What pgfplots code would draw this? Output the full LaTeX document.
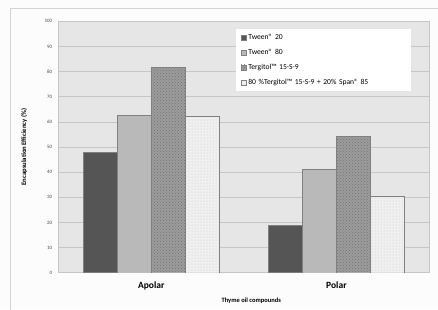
\documentclass[border=0pt]{standalone}
\usepackage{pgfplots}
\pgfplotsset{compat=1.18}
\usepackage{fontspec}
\setmainfont{Carlito}
\usetikzlibrary{patterns}
\definecolor{plotbg}{HTML}{E6E6E6}
\definecolor{gridc}{HTML}{C6C6C6}
\definecolor{frame}{HTML}{D4D4D4}
\definecolor{darkbar}{HTML}{555555}
\definecolor{midbar}{HTML}{B9B9B9}
\definecolor{granite}{HTML}{9C9C9C}
\definecolor{lightbar}{HTML}{F0F0F0}
\begin{document}
\begin{tikzpicture}[x=1pt,y=1pt]
\useasboundingbox (0,0) rectangle (438,309);
\fill[white!98!gray] (0,0) rectangle (438,309);
\draw[frame, line width=0.8pt] (10.5,-2) -- (10.5,300.5) -- (440,300.5);
\begin{axis}[
  at={(58.7pt,36.3pt)}, anchor=south west,
  scale only axis, width=370.3pt, height=251.4pt,
  ybar=0pt, bar width=34pt,
  xmin=-0.5, xmax=1.5, ymin=0, ymax=100,
  xtick={0,1}, xticklabels={Apolar,Polar},
  ytick={0,10,...,100},
  major tick length=0pt,
  axis background/.style={fill=plotbg},
  axis line style={gridc, line width=0.6pt},
  ymajorgrids, grid style={gridc, line width=0.6pt},
  xticklabel style={font=\fontsize{9.5}{11}\selectfont\bfseries, yshift=-6pt},
  yticklabel style={font=\fontsize{5}{6}\selectfont, text=black!70, xshift=-3pt},
  /pgf/number format/assume math mode=true,
  xlabel={Thyme oil compounds},
  xlabel style={font=\fontsize{6.5}{8}\selectfont\bfseries, at={(axis description cs:0.52,0)}, anchor=north, yshift=-22pt},
  ylabel={Encapsulation Efficiency (\%)},
  ylabel style={font=\fontsize{6.7}{8}\selectfont\bfseries, at={(axis description cs:0,0.5)}, anchor=south, yshift=28pt},
  legend style={at={(axis description cs:0.479,0.969)}, anchor=north west,
    draw=none, fill=white, font=\fontsize{7.6}{9}\selectfont,
    inner xsep=5pt, inner ysep=3pt, row sep=4.2pt, cells={anchor=west},
    nodes={inner xsep=1.5pt}, text width=156pt},
  legend image code/.code={\draw[#1, draw=gray] (0pt,-2.6pt) rectangle (5.2pt,2.6pt);},
]
\addplot[fill=darkbar, draw=gray] coordinates {(0,47.9) (1,18.8)};
\addplot[fill=midbar, draw=gray] coordinates {(0,62.6) (1,41.1)};
\addplot[fill=granite, draw=gray, postaction={pattern=crosshatch dots, pattern color=black!55}] coordinates {(0,81.7) (1,54.2)};
\addplot[fill=lightbar, draw=gray, postaction={pattern=dots, pattern color=gray!45}] coordinates {(0,62.4) (1,30.4)};
\legend{Tween® 20, Tween® 80, Tergitol™ 15-S-9, 80 \%Tergitol™ 15-S-9 + 20\% Span® 85}
\end{axis}
\end{tikzpicture}
\end{document}
